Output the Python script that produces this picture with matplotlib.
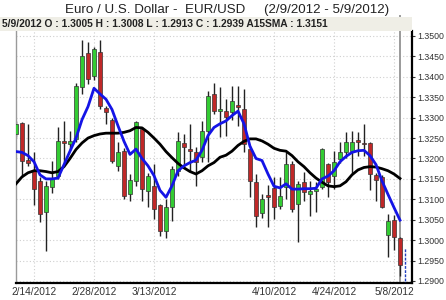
import matplotlib
matplotlib.use("Agg")
import matplotlib.pyplot as plt
import numpy as np

plt.rcParams['font.family'] = ['Liberation Sans', 'DejaVu Sans']

# daily candles 2/9/2012 - 5/9/2012 (trading days)
opens = [1.3260, 1.3286, 1.3197, 1.3170, 1.3146, 1.3068, 1.3131, 1.3158, 1.3244, 1.3236,
         1.3248, 1.3374, 1.3458, 1.3403, 1.3460, 1.3324, 1.3294, 1.3182, 1.3219, 1.3113,
         1.3146, 1.3272, 1.3121, 1.3133, 1.3085, 1.3023, 1.3080, 1.3170, 1.3237, 1.3223,
         1.3215, 1.3203, 1.3268, 1.3358, 1.3317, 1.3317, 1.3315, 1.3332, 1.3321, 1.3223,
         1.3142, 1.3067, 1.3111, 1.3128, 1.3084, 1.3129, 1.3187, 1.3088, 1.3142, 1.3112,
         1.3120, 1.3129, 1.3187, 1.3158, 1.3199, 1.3215, 1.3219, 1.3245, 1.3237, 1.3237,
         1.3160, 1.3154, 1.3012, 1.3050, 1.3005]
highs = [1.3292, 1.3290, 1.3284, 1.3215, 1.3155, 1.3146, 1.3195, 1.3276, 1.3291, 1.3268,
         1.3385, 1.3489, 1.3485, 1.3472, 1.3489, 1.3328, 1.3298, 1.3240, 1.3225, 1.3162,
         1.3291, 1.3278, 1.3165, 1.3187, 1.3089, 1.3101, 1.3182, 1.3264, 1.3260, 1.3285,
         1.3227, 1.3291, 1.3366, 1.3384, 1.3374, 1.3346, 1.3378, 1.3378, 1.3370, 1.3230,
         1.3162, 1.3113, 1.3134, 1.3154, 1.3154, 1.3215, 1.3195, 1.3146, 1.3166, 1.3145,
         1.3142, 1.3225, 1.3190, 1.3219, 1.3240, 1.3264, 1.3268, 1.3264, 1.3285, 1.3240,
         1.3165, 1.3160, 1.3064, 1.3062, 1.3008]
lows = [1.3252, 1.3155, 1.3182, 1.3085, 1.3044, 1.2974, 1.3115, 1.3150, 1.3191, 1.3222,
        1.3240, 1.3358, 1.3383, 1.3391, 1.3322, 1.3284, 1.3188, 1.3170, 1.3101, 1.3097,
        1.3133, 1.3097, 1.3080, 1.3052, 1.3011, 1.3005, 1.3048, 1.3158, 1.3178, 1.3170,
        1.3133, 1.3191, 1.3191, 1.3309, 1.3252, 1.3256, 1.3295, 1.3280, 1.3215, 1.3105,
        1.3033, 1.3055, 1.3032, 1.3052, 1.3076, 1.3101, 1.3068, 1.2995, 1.3097, 1.3060,
        1.3068, 1.3125, 1.3105, 1.3125, 1.3190, 1.3200, 1.3162, 1.3207, 1.3207, 1.3123,
        1.3095, 1.3078, 1.2958, 1.2976, 1.2913]
closes = [1.3284, 1.3195, 1.3190, 1.3125, 1.3064, 1.3133, 1.3150, 1.3244, 1.3237, 1.3244,
          1.3378, 1.3452, 1.3395, 1.3468, 1.3329, 1.3313, 1.3194, 1.3215, 1.3109, 1.3147,
          1.3289, 1.3125, 1.3158, 1.3076, 1.3023, 1.3080, 1.3174, 1.3244, 1.3227, 1.3218,
          1.3191, 1.3267, 1.3354, 1.3317, 1.3322, 1.3301, 1.3340, 1.3327, 1.3236, 1.3146,
          1.3058, 1.3100, 1.3106, 1.3080, 1.3107, 1.3187, 1.3076, 1.3138, 1.3117, 1.3120,
          1.3125, 1.3223, 1.3142, 1.3191, 1.3215, 1.3240, 1.3240, 1.3240, 1.3235, 1.3162,
          1.3148, 1.3082, 1.3048, 1.3008, 1.2939]

# blue fast average
fast_ma = [1.3217, 1.3215, 1.3207, 1.3192, 1.3160, 1.3150, 1.3150, 1.3152, 1.3185, 1.3218,
           1.3250, 1.3295, 1.3327, 1.3372, 1.3358, 1.3345, 1.3320, 1.3280, 1.3242, 1.3210,
           1.3223, 1.3200, 1.3182, 1.3158, 1.3122, 1.3105, 1.3133, 1.3170, 1.3182, 1.3190,
           1.3196, 1.3220, 1.3256, 1.3276, 1.3285, 1.3292, 1.3305, 1.3316, 1.3285, 1.3230,
           1.3200, 1.3195, 1.3162, 1.3132, 1.3128, 1.3138, 1.3125, 1.3125, 1.3126, 1.3126,
           1.3127, 1.3150, 1.3157, 1.3170, 1.3192, 1.3205, 1.3215, 1.3219, 1.3220, 1.3207,
           1.3185, 1.3145, 1.3112, 1.3080, 1.3049]
# black A15SMA
sma15 = [1.3138, 1.3155, 1.3165, 1.3170, 1.3170, 1.3168, 1.3165, 1.3168, 1.3180, 1.3200,
         1.3222, 1.3238, 1.3250, 1.3256, 1.3260, 1.3262, 1.3262, 1.3262, 1.3264, 1.3268,
         1.3276, 1.3275, 1.3264, 1.3250, 1.3235, 1.3217, 1.3202, 1.3188, 1.3177, 1.3168,
         1.3162, 1.3170, 1.3182, 1.3190, 1.3203, 1.3208, 1.3218, 1.3232, 1.3242, 1.3248,
         1.3248, 1.3243, 1.3235, 1.3225, 1.3220, 1.3218, 1.3207, 1.3192, 1.3180, 1.3165,
         1.3152, 1.3142, 1.3133, 1.3131, 1.3133, 1.3143, 1.3160, 1.3172, 1.3178, 1.3180,
         1.3179, 1.3175, 1.3170, 1.3162, 1.3151]

tick_idx = [3, 13, 23, 43, 53, 63]
tick_labels = ['2/14/2012', '2/28/2012', '3/13/2012', '4/10/2012', '4/24/2012', '5/8/2012']
price_ticks = [1.2900, 1.2950, 1.3000, 1.3050, 1.3100, 1.3150, 1.3200, 1.3250,
               1.3300, 1.3350, 1.3400, 1.3450, 1.3500]
last_price = 1.2982

title = 'Euro / U.S. Dollar -  EUR/USD     (2/9/2012 - 5/9/2012)'
info = '5/9/2012 O : 1.3005 H : 1.3008 L : 1.2913 C : 1.2939 A15SMA : 1.3151'

fig = plt.figure(figsize=(4.46, 3.0), dpi=100)
fig.patch.set_facecolor('white')

# header strip
fig.patches.append(plt.Rectangle((0, 1 - 31 / 300), 412 / 446, 14 / 300,
                                 transform=fig.transFigure, facecolor='#efeee6',
                                 edgecolor='none', zorder=0))
fig.text(2 / 446, 1 - 24 / 300, info, fontsize=7.4, fontweight='bold',
         color='#222222', va='center', ha='left')
fig.text(227 / 446, 1 - 10 / 300, title, fontsize=9.6, color='#222222',
         va='center', ha='center')

ax = fig.add_axes([16 / 446, 1 - 283 / 300, 396 / 446, 252 / 300])
ax.set_facecolor('white')
ax.patch.set_alpha(0)

x = np.arange(len(opens))
o = np.array(opens)
c = np.array(closes)
up = c >= o
colors = np.where(up, '#33cc33', '#c02828')

ax.vlines(x, lows, highs, color='#222222', linewidth=1.0, zorder=2)
ax.bar(x, np.abs(c - o), bottom=np.minimum(o, c), width=0.7, color=colors,
       edgecolor='#333333', linewidth=0.5, zorder=3)

ax.plot(x, sma15, color='black', linewidth=2.0, zorder=4)
ax.plot(x, fast_ma, color='#1414e6', linewidth=2.0, zorder=5)

# cursor line (runs up through the header) and last price marker
ax.axvline(x[-1], ymax=1.06, clip_on=False, color='#9a9a9a', linewidth=1.4, zorder=1)
ax.vlines(x[-1] + 0.85, 1.2890, last_price, color='#1f3fbf', linewidth=1.0,
          linestyles=(0, (2, 1)), zorder=6)

ax.set_xlim(0, 66)
ax.set_ylim(1.28951, 1.35122)

ax.set_yticks(price_ticks)
ax.set_yticklabels(['%.4f' % p for p in price_ticks])
ax.yaxis.tick_right()
ax.set_xticks(tick_idx)
ax.set_xticklabels(tick_labels)
ax.tick_params(axis='y', labelsize=6.3, colors='#333333', length=2, pad=2)
ax.tick_params(axis='x', labelsize=7.3, colors='#333333', length=0, pad=3)

ax.grid(True, color='#cfcfcf', linestyle=(0, (1, 2)), linewidth=0.8)
ax.set_axisbelow(True)

ax.spines['top'].set_visible(False)
ax.spines['left'].set_color('#9a9a9a')
ax.spines['left'].set_linewidth(1.0)
ax.spines['right'].set_color('black')
ax.spines['right'].set_linewidth(1.6)
ax.spines['bottom'].set_color('black')
ax.spines['bottom'].set_linewidth(1.6)

fig.savefig('out.png', dpi=100)
